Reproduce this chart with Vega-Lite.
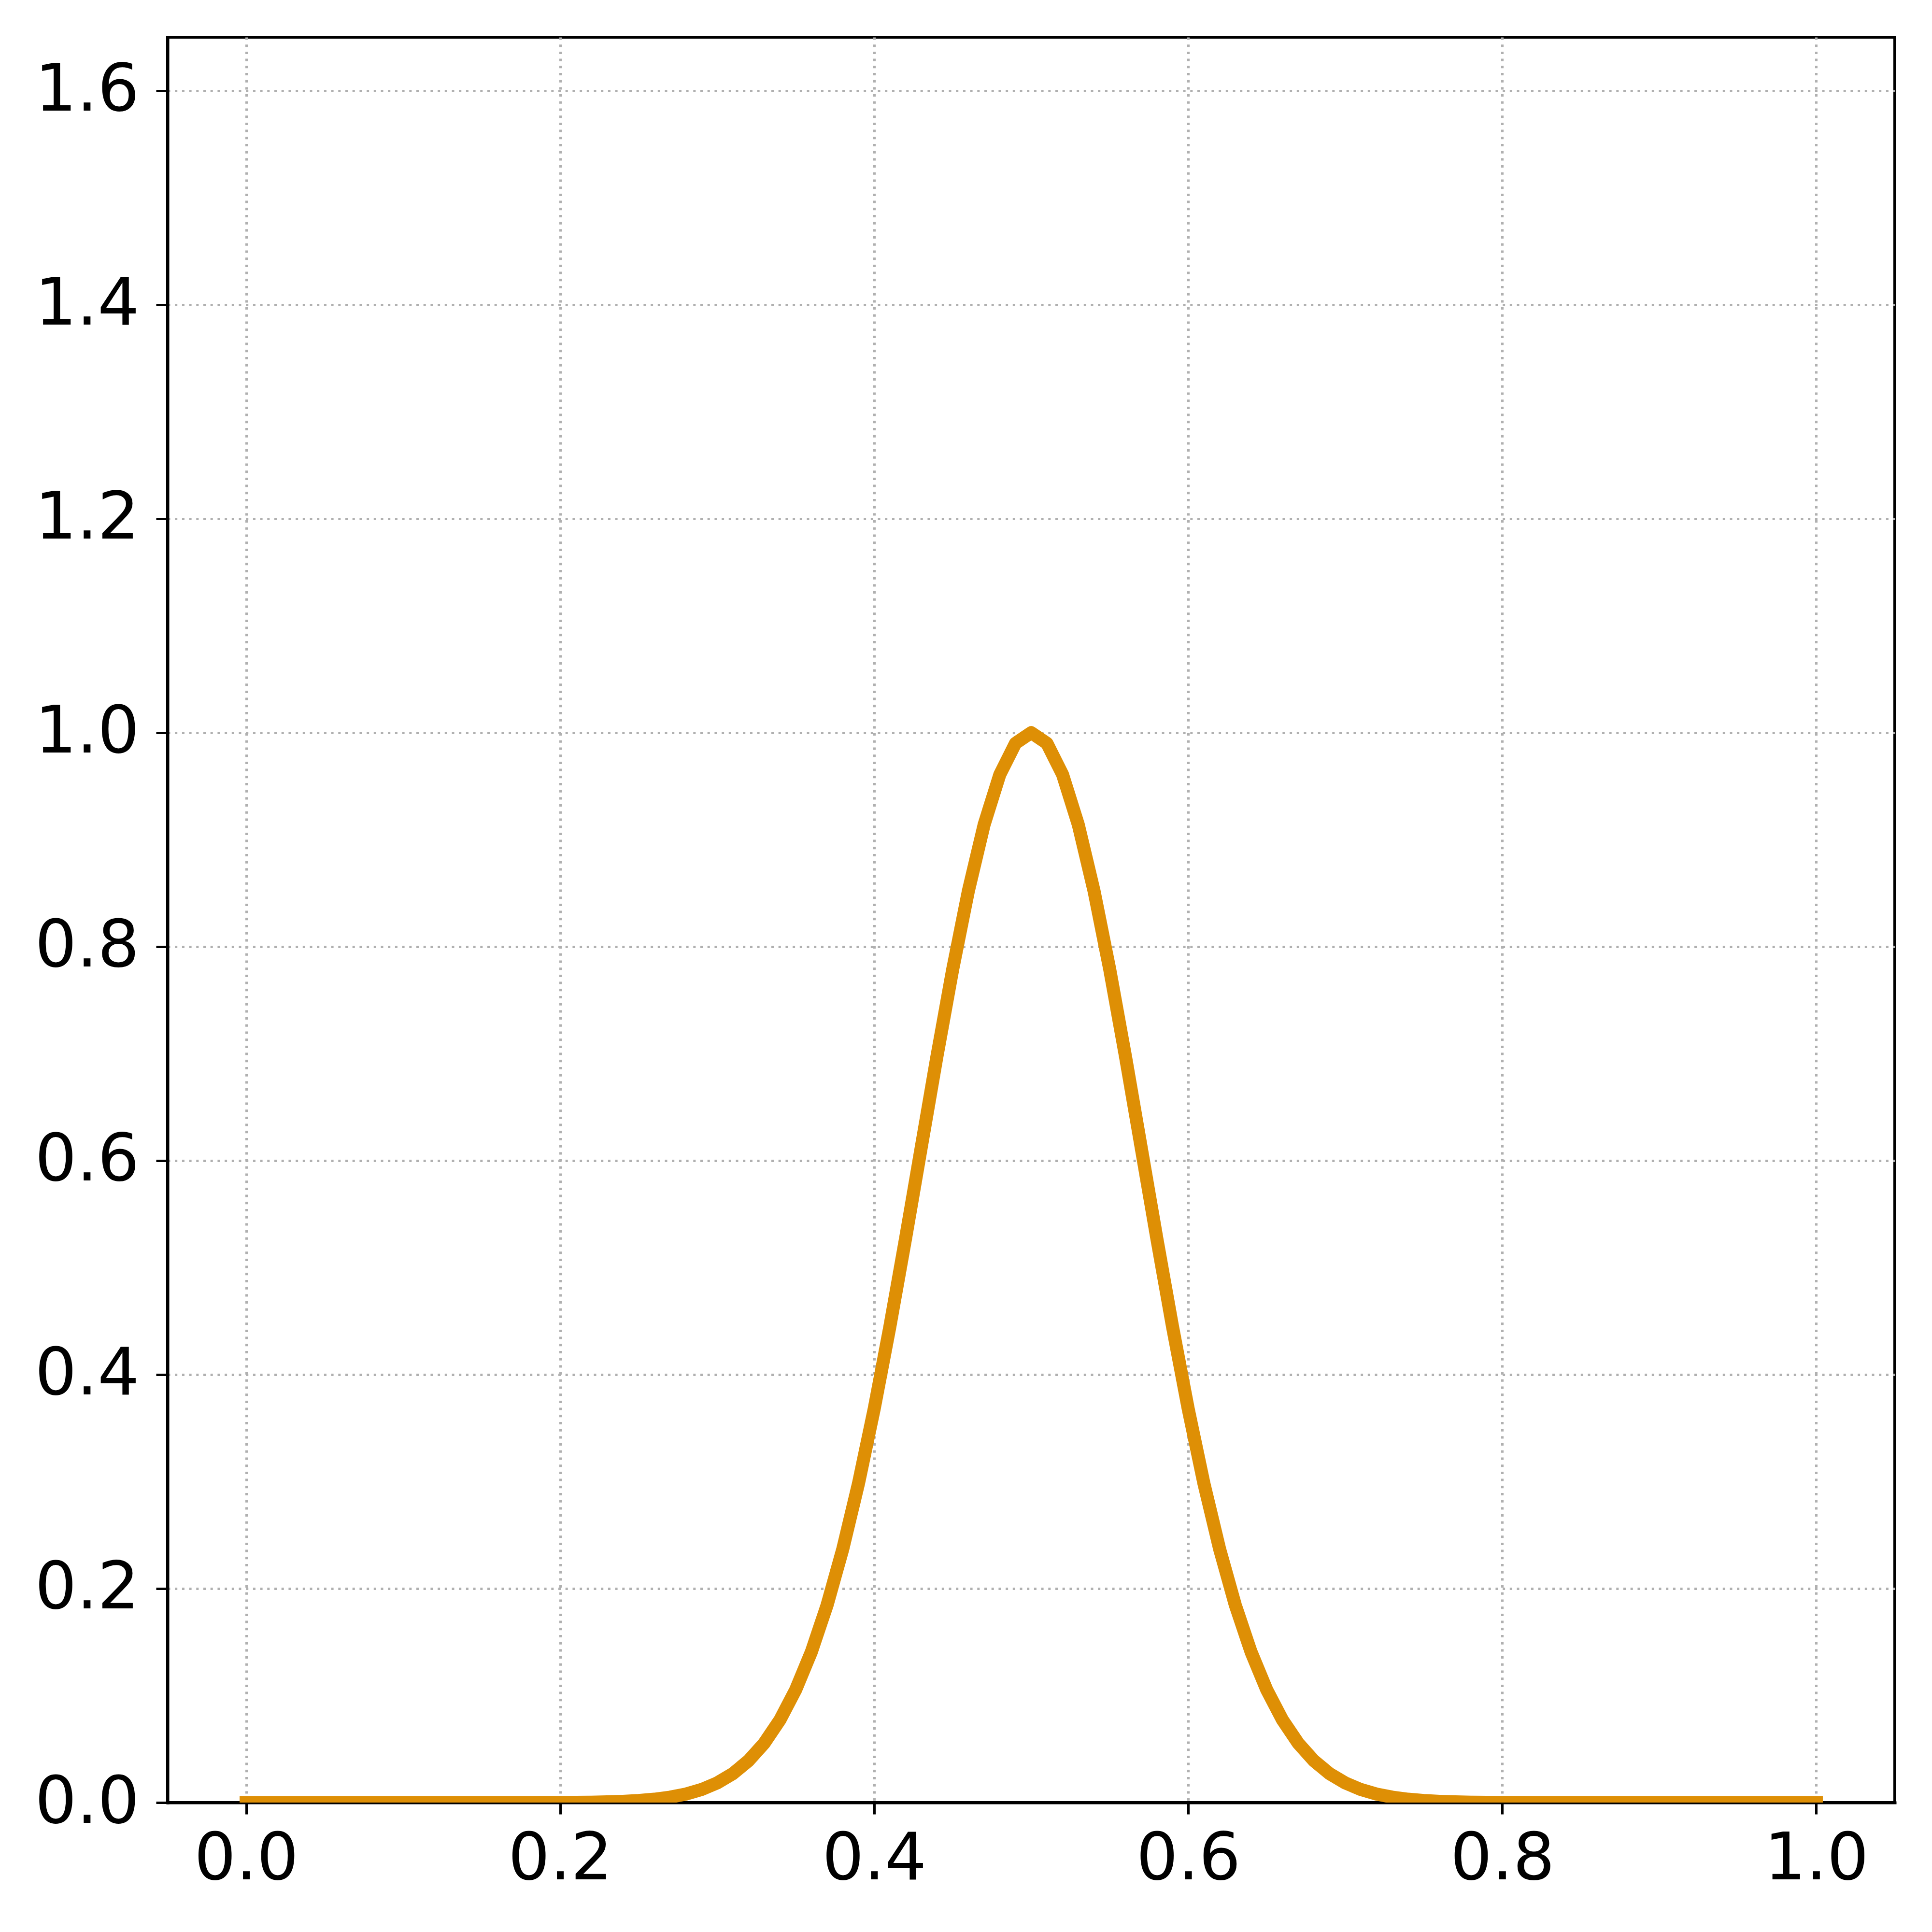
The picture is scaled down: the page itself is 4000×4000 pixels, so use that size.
{
  "$schema": "https://vega.github.io/schema/vega-lite/v6.json",
  "width": 3576,
  "height": 3655,
  "autosize": {"type": "none"},
  "padding": {"left": 347, "top": 77, "right": 77, "bottom": 268},
  "background": "white",
  "config": {
    "view": {"stroke": "black", "strokeWidth": 6},
    "axis": {
      "domain": true,
      "domainColor": "black",
      "domainWidth": 6,
      "domainCap": "square",
      "zindex": 1,
      "grid": true,
      "gridColor": "#b0b0b0",
      "gridDash": [5, 9.7],
      "gridWidth": 5,
      "ticks": true,
      "tickColor": "black",
      "tickWidth": 5,
      "tickSize": 24,
      "labelFont": "DejaVu Sans",
      "labelFontSize": 136,
      "labelColor": "black",
      "labelFlush": false,
      "labelOverlap": false,
      "labelLimit": 0,
      "title": null
    }
  },
  "data": {
    "values": [
      {"x": 0.00, "y": 0}, {"x": 0.01, "y": 0}, {"x": 0.02, "y": 0}, {"x": 0.03, "y": 0}, {"x": 0.04, "y": 0},
      {"x": 0.05, "y": 0}, {"x": 0.06, "y": 0}, {"x": 0.07, "y": 0}, {"x": 0.08, "y": 0}, {"x": 0.09, "y": 0},
      {"x": 0.10, "y": 0}, {"x": 0.11, "y": 0}, {"x": 0.12, "y": 0}, {"x": 0.13, "y": 0}, {"x": 0.14, "y": 0},
      {"x": 0.15, "y": 0}, {"x": 0.16, "y": 0.00001}, {"x": 0.17, "y": 0.00002}, {"x": 0.18, "y": 0.0000357},
      {"x": 0.19, "y": 0.0000671}, {"x": 0.20, "y": 0.000123}, {"x": 0.21, "y": 0.000222}, {"x": 0.22, "y": 0.000394},
      {"x": 0.23, "y": 0.000682}, {"x": 0.24, "y": 0.001159}, {"x": 0.25, "y": 0.00193}, {"x": 0.26, "y": 0.003151},
      {"x": 0.27, "y": 0.005042}, {"x": 0.28, "y": 0.007907}, {"x": 0.29, "y": 0.012155}, {"x": 0.30, "y": 0.018316},
      {"x": 0.31, "y": 0.027052}, {"x": 0.32, "y": 0.039164}, {"x": 0.33, "y": 0.055576}, {"x": 0.34, "y": 0.077305},
      {"x": 0.35, "y": 0.105399}, {"x": 0.36, "y": 0.140858}, {"x": 0.37, "y": 0.18452}, {"x": 0.38, "y": 0.236928},
      {"x": 0.39, "y": 0.298197}, {"x": 0.40, "y": 0.367879}, {"x": 0.41, "y": 0.444858}, {"x": 0.42, "y": 0.527292},
      {"x": 0.43, "y": 0.612626}, {"x": 0.44, "y": 0.697676}, {"x": 0.45, "y": 0.778801}, {"x": 0.46, "y": 0.852144},
      {"x": 0.47, "y": 0.913931}, {"x": 0.48, "y": 0.960789}, {"x": 0.49, "y": 0.99005}, {"x": 0.50, "y": 1.0},
      {"x": 0.51, "y": 0.99005}, {"x": 0.52, "y": 0.960789}, {"x": 0.53, "y": 0.913931}, {"x": 0.54, "y": 0.852144},
      {"x": 0.55, "y": 0.778801}, {"x": 0.56, "y": 0.697676}, {"x": 0.57, "y": 0.612626}, {"x": 0.58, "y": 0.527292},
      {"x": 0.59, "y": 0.444858}, {"x": 0.60, "y": 0.367879}, {"x": 0.61, "y": 0.298197}, {"x": 0.62, "y": 0.236928},
      {"x": 0.63, "y": 0.18452}, {"x": 0.64, "y": 0.140858}, {"x": 0.65, "y": 0.105399}, {"x": 0.66, "y": 0.077305},
      {"x": 0.67, "y": 0.055576}, {"x": 0.68, "y": 0.039164}, {"x": 0.69, "y": 0.027052}, {"x": 0.70, "y": 0.018316},
      {"x": 0.71, "y": 0.012155}, {"x": 0.72, "y": 0.007907}, {"x": 0.73, "y": 0.005042}, {"x": 0.74, "y": 0.003151},
      {"x": 0.75, "y": 0.00193}, {"x": 0.76, "y": 0.001159}, {"x": 0.77, "y": 0.000682}, {"x": 0.78, "y": 0.000394},
      {"x": 0.79, "y": 0.000222}, {"x": 0.80, "y": 0.000123}, {"x": 0.81, "y": 0.0000671}, {"x": 0.82, "y": 0.0000357},
      {"x": 0.83, "y": 0.00002}, {"x": 0.84, "y": 0.00001}, {"x": 0.85, "y": 0}, {"x": 0.86, "y": 0},
      {"x": 0.87, "y": 0}, {"x": 0.88, "y": 0}, {"x": 0.89, "y": 0}, {"x": 0.90, "y": 0}, {"x": 0.91, "y": 0},
      {"x": 0.92, "y": 0}, {"x": 0.93, "y": 0}, {"x": 0.94, "y": 0}, {"x": 0.95, "y": 0}, {"x": 0.96, "y": 0},
      {"x": 0.97, "y": 0}, {"x": 0.98, "y": 0}, {"x": 0.99, "y": 0}, {"x": 1.00, "y": 0}
    ]
  },
  "mark": {
    "type": "line",
    "color": "#de8f05",
    "strokeWidth": 27,
    "strokeCap": "square",
    "strokeJoin": "round",
    "clip": true
  },
  "encoding": {
    "x": {
      "field": "x",
      "type": "quantitative",
      "scale": {"domain": [-0.05, 1.05], "nice": false, "zero": false},
      "axis": {"values": [0, 0.2, 0.4, 0.6, 0.8, 1.0], "format": ".1f", "labelPadding": 27}
    },
    "y": {
      "field": "y",
      "type": "quantitative",
      "scale": {"domain": [0, 1.65], "nice": false},
      "axis": {"values": [0, 0.2, 0.4, 0.6, 0.8, 1.0, 1.2, 1.4, 1.6], "format": ".1f", "labelPadding": 35}
    }
  }
}
